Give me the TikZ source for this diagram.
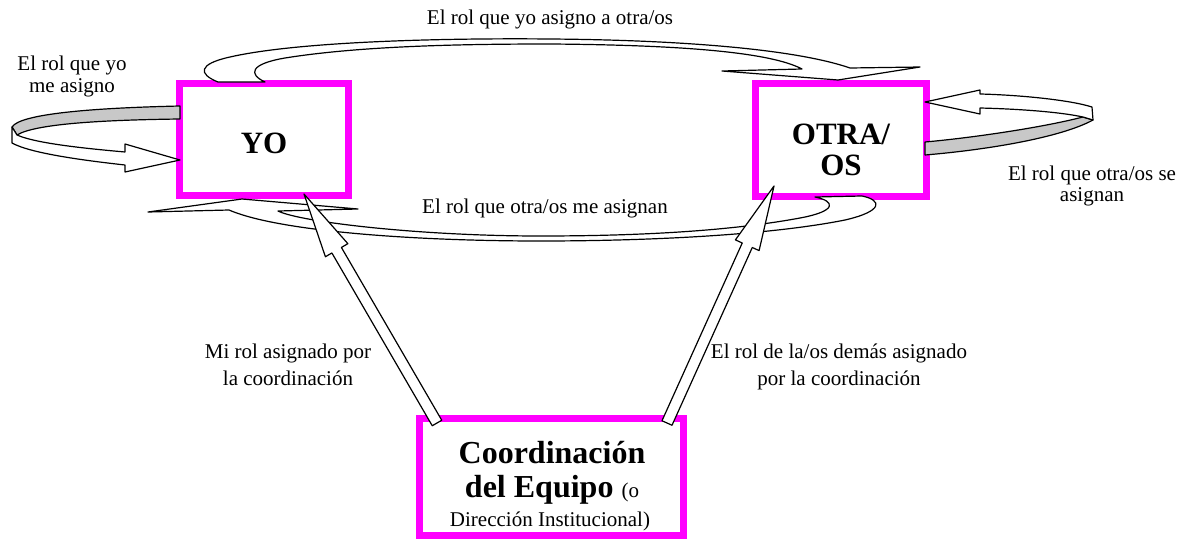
\documentclass[tikz,border=0pt]{standalone}
\usepackage{fontspec}
\setmainfont{Liberation Serif}
\usetikzlibrary{calc}
\definecolor{mag}{RGB}{255,0,255}
\definecolor{ribgrey}{RGB}{200,200,200}
\tikzset{
  rolebox/.style={draw=mag, line width=7pt, inner sep=0pt},
  band/.style={draw=black, fill=white, line width=1.2pt, line join=round},
  greyband/.style={band, fill=ribgrey},
  lbl/.style={font=\fontsize{21}{23}\selectfont, anchor=base, inner sep=0pt},
  big/.style={font=\fontsize{31}{33}\selectfont\bfseries, anchor=base, inner sep=0pt},
}
\newcommand{\blockarr}[2]{%
  \path (#1) coordinate (ba-t) (#2) coordinate (ba-p);
  \path ($(ba-p)!65pt!(ba-t)$) coordinate (ba-b);
  \draw[band] ($(ba-t)!5.5pt!90:(ba-p)$) -- ($(ba-b)!5.5pt!90:(ba-p)$)
    -- ($(ba-b)!13pt!90:(ba-p)$) -- (ba-p) -- ($(ba-b)!13pt!-90:(ba-p)$)
    -- ($(ba-b)!5.5pt!-90:(ba-p)$) -- ($(ba-t)!5.5pt!-90:(ba-p)$) -- cycle;}
\begin{document}
\begin{tikzpicture}[x=1pt,y=-1pt]
\useasboundingbox (0,0) rectangle (1184,541);
% boxes
\node[rolebox, minimum width=169pt, minimum height=112pt] (yo) at (264,139.5) {};
\node[rolebox, minimum width=171pt, minimum height=113pt] (otra) at (841,140) {};
\node[rolebox, minimum width=264pt, minimum height=117pt] (coord) at (551.5,477) {};
% top band: YO -> OTRA
\draw[band] (218,82) .. controls (198,74) and (198,64) .. (230,57)
  .. controls (300,41) and (450,38) .. (550,39)
  .. controls (680,40) and (795,49) .. (850,68)
  -- (920,67) -- (838,80) -- (722,71) -- (802,69)
  .. controls (770,52) and (680,45) .. (550,44)
  .. controls (460,44) and (360,46) .. (285,58)
  .. controls (250,64) and (248,74) .. (265,82) -- cycle;
% bottom band: OTRA -> YO
\draw[band] (862,196) .. controls (882,200) and (884,211) .. (845,220)
  .. controls (770,235) and (650,241) .. (540,241)
  .. controls (420,241) and (280,232) .. (229,210)
  -- (148,212) -- (242,199) -- (358,209) -- (278,211)
  .. controls (300,222) and (420,236) .. (540,236)
  .. controls (640,236) and (730,231) .. (800,218)
  .. controls (838,211) and (835,201) .. (815,197) -- cycle;
% left self loop
\draw[greyband] (180,106) .. controls (90,108) and (20,114) .. (12,127)
  -- (17,135) .. controls (35,124) and (100,120) .. (180,119) -- cycle;
\draw[band] (12,127) -- (17,135) .. controls (35,143) and (80,148) .. (125,152)
  -- (125,144) -- (180,160) -- (125,172) -- (125,165)
  .. controls (80,160) and (30,153) .. (12,143) -- cycle;
% right self loop
\draw[greyband] (1083,117) .. controls (1040,128) and (970,138) .. (925,142)
  -- (925,155) .. controls (985,150) and (1060,138) .. (1093,120) -- cycle;
\draw[band] (925,102) -- (980,90) -- (980,94)
  .. controls (1020,95) and (1070,100) .. (1092,107)
  -- (1093,120) -- (1083,117)
  .. controls (1060,112) and (1020,109) .. (980,108)
  -- (980,114) -- cycle;
% vertical arrows from coordination
\coordinate (lt) at (437,423);
\coordinate (lp) at (304,194);
\coordinate (rt) at (667,423);
\coordinate (rp) at (774,186);
\blockarr{lt}{lp}
\blockarr{rt}{rp}
% texts
\node[lbl] (ttop) at (550,24) {El rol que yo asigno a otra/os};
\node[lbl] (tself1) at (72,70) {El rol que yo};
\node[lbl] (tself2) at (72,92) {me asigno};
\node[big] (tyo) at (264,153) {YO};
\node[big] (totra1) at (841,144) {OTRA/};
\node[big] (totra2) at (841,175) {OS};
\node[lbl] (toself1) at (1092,180) {El rol que otra/os se};
\node[lbl] (toself2) at (1092,201) {asignan};
\node[lbl] (tbot) at (545,213) {El rol que otra/os me asignan};
\node[lbl] (tmi1) at (288,358) {Mi rol asignado por};
\node[lbl] (tmi2) at (288,385) {la coordinación};
\node[lbl] (tdem1) at (839,358) {El rol de la/os demás asignado};
\node[lbl] (tdem2) at (839,385) {por la coordinación};
\node[big, font=\fontsize{32}{34}\selectfont\bfseries] (tc1) at (552,463) {Coordinación};
\node[big, font=\fontsize{32}{34}\selectfont\bfseries] (tc2) at (552,497) {del Equipo {\mdseries\fontsize{21}{23}\selectfont (o}};
\node[lbl] (tc3) at (550,526) {Dirección Institucional)};
\end{tikzpicture}
\end{document}
